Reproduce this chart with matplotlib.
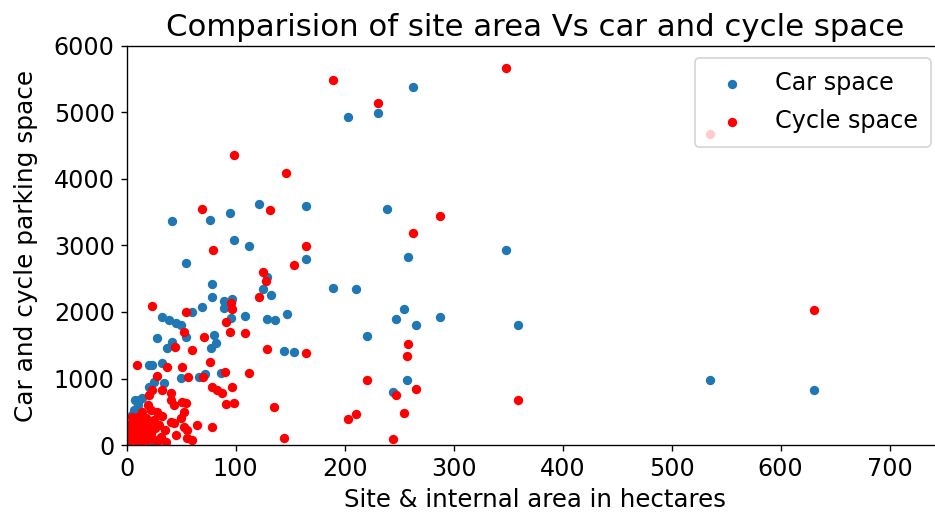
import matplotlib
matplotlib.use("Agg")
import matplotlib.pyplot as plt

# site area (hectares) and parking spaces
car_area = [535, 630.6, 262.4, 230.3, 202.8, 164.2, 238.5, 164.2, 258, 348.3,
            189, 210.7, 254.4, 247.1, 265.4, 287.4, 359.3, 220.5, 257.2, 244.3,
            41.9, 76.1, 94.8, 121.4, 98.4, 112.2, 54.1, 129, 78.6, 125.4,
            132.1, 78.6, 89.3, 96.6, 89.3, 69.4, 60.2, 32.7, 38.8, 45,
            49.5, 95.4, 108.3, 129, 135.8, 146.8, 28.2, 41.9, 54.1, 80.1,
            81.7, 37.3, 77.7, 144.3, 153.5, 20.5, 23.5, 32.7, 49.5, 66.3,
            71.8, 86.2, 20.5, 25, 34.5, 11.3, 8, 6.7, 14.4, 22,
            10, 14, 17, 5, 3]
car_space = [978, 827, 5390, 4993, 4928, 3595, 3554, 2797, 2832, 2933,
             2366, 2346, 2041, 1890, 1810, 1930, 1810, 1639, 978, 792,
             3369, 3389, 3494, 3620, 3083, 2993, 2742, 2522, 2421, 2342,
             2251, 2221, 2166, 2200, 2056, 2071, 2005, 1920, 1880, 1830,
             1805, 1905, 1940, 1890, 1880, 1970, 1604, 1554, 1629, 1654,
             1530, 1454, 1454, 1419, 1404, 1203, 1203, 1229, 1003, 1028,
             1068, 1088, 877, 952, 928, 677, 670, 526, 226, 75,
             600, 700, 400, 450, 300]

cycle_area = [630.6, 535, 189, 230.3, 348.3, 287.4, 262.4, 164.2, 164.2, 258.4,
              257.2, 220.5, 265.4, 247.1, 359.3, 210.7, 202.8, 254.4, 244.3,
              98.4, 146.5, 69.4, 131.8, 79.5, 153.5, 125, 128.1, 121.4, 95.4,
              97, 23.6, 54.7, 90.8, 52.6, 94.8, 108.5, 70.9, 44, 60.2,
              129, 9.2, 37.3, 51, 56.6, 76.1, 70.3, 89.9, 112.2, 27.5,
              23.6, 20.5, 32.7, 40.4, 40.4, 51, 54.1, 78.6, 83.2, 87.7,
              97, 98.4, 90.8, 135.1, 144.3, 14.4, 22, 28.2, 32.7, 25,
              40.4, 43.4, 49.5, 52.6, 55.6, 64.8, 78.6, 55.6, 60.2, 31.2,
              15.9, 18.9, 19.3, 52.9, 43.7,
              1, 2, 3, 4, 5, 6, 7, 8, 9, 10,
              11, 12, 13, 15, 16, 18, 20, 22, 24, 26,
              28, 2, 5, 9, 35, 30, 12, 36, 45]
cycle_space = [2030, 4670, 5485, 5149, 5670, 3439, 3184, 2998, 1379, 1519,
               1338, 982, 847, 747, 682, 461, 386, 476, 90,
               4357, 4096, 3549, 3530, 2933, 2712, 2602, 2471, 2230, 2131,
               2041, 2090, 2005, 1855, 1704, 1704, 1679, 1629, 1479, 1429,
               1439, 1203, 1169, 1178, 1028, 1253, 1028, 1103, 1078, 1043,
               827, 752, 827, 777, 677, 651, 627, 877, 827, 777,
               877, 636, 617, 577, 100, 501, 526, 501, 430, 376,
               351, 326, 401, 276, 226, 301, 276, 100, 75, 125,
               150, 75, 602, 501, 602,
               20, 60, 150, 250, 350, 100, 200, 300, 40, 420,
               150, 250, 60, 330, 220, 400, 280, 180, 90, 250,
               40, 300, 420, 120, 220, 300, 20, 50, 150]

DPI = 123
fig = plt.figure(figsize=(935 / DPI, 522 / DPI), dpi=DPI)
# axes runs slightly past the right edge, as in the cropped original
ax = fig.add_axes([0.1355, 0.1475, 0.873, 0.7644])

ax.scatter(car_area, car_space, s=20, label="Car space")
ax.scatter(cycle_area, cycle_space, s=20, color="red", label="Cycle space")

ax.set_xlim(0, 749)
ax.set_ylim(0, 6000)
ax.set_xticks(range(0, 800, 100))
ax.set_yticks(range(0, 7000, 1000))
ax.tick_params(labelsize=14)

ax.set_title("Comparision of site area Vs car and cycle space", fontsize=18)
ax.set_xlabel("Site & internal area in hectares", fontsize=14.3)
ax.set_ylabel("Car and cycle parking space", fontsize=14.5, labelpad=9)
ax.legend(loc="upper right", fontsize=14, labelspacing=0.6, borderpad=0.55)

fig.savefig("out.png", dpi=DPI)
